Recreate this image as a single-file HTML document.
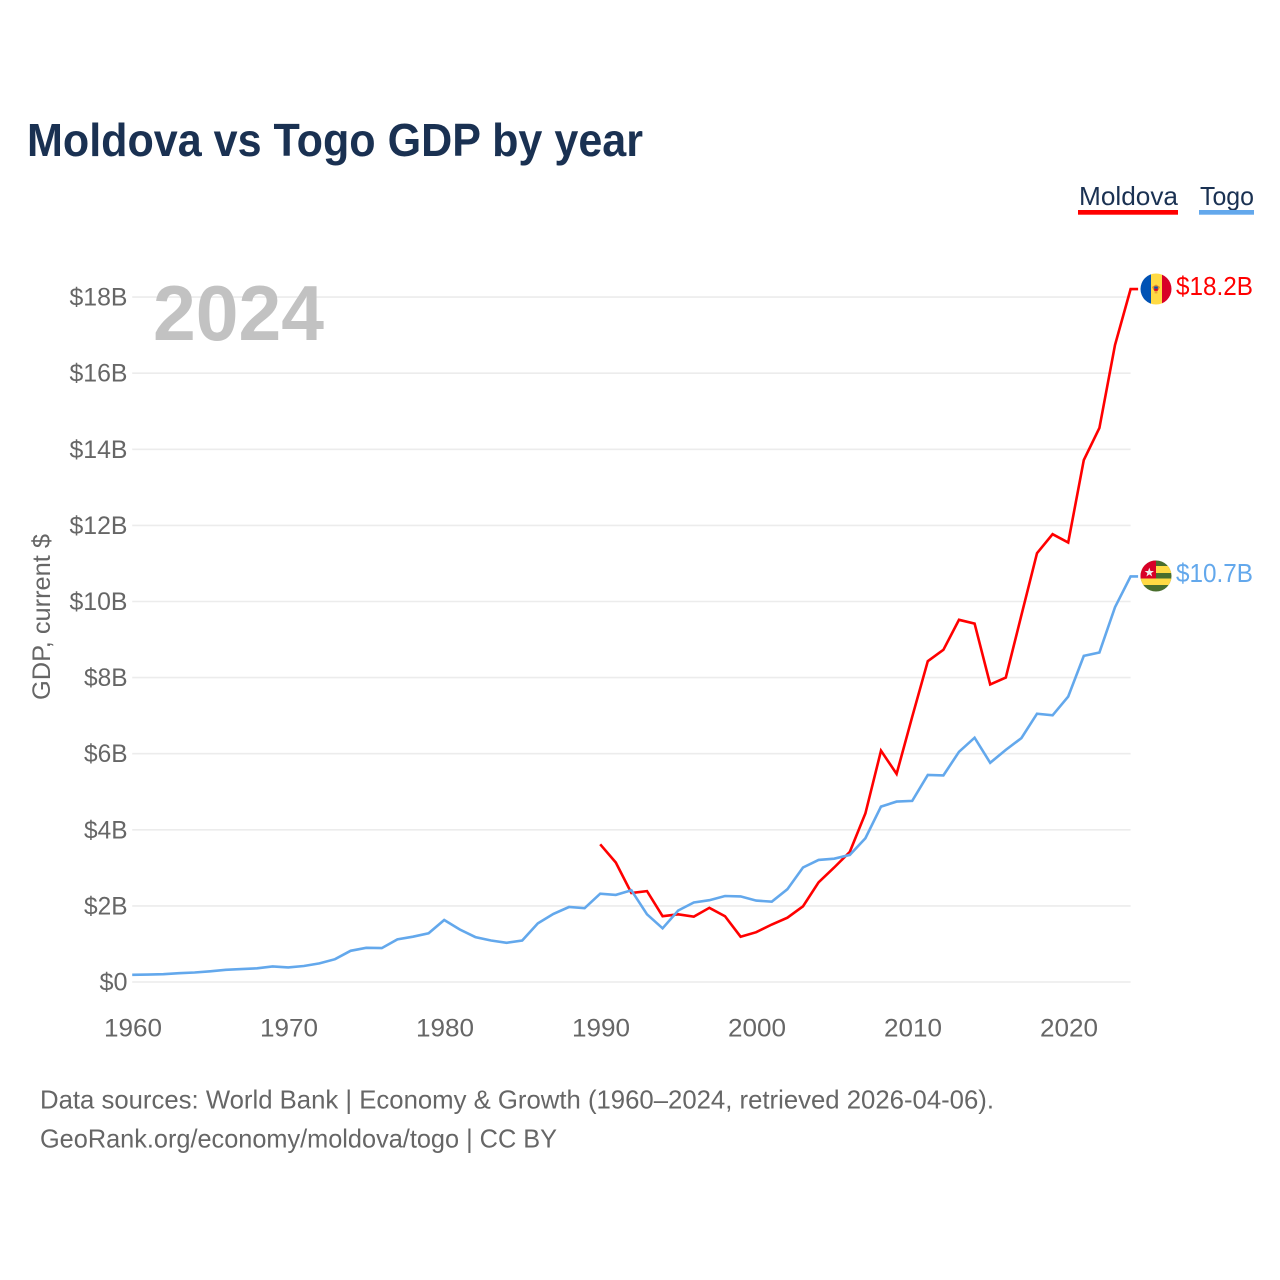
<!DOCTYPE html>
<html lang="en">
<head>
<meta charset="utf-8">
<title>Moldova vs Togo GDP by year</title>
<style>
html,body{margin:0;padding:0;background:#fff;width:1280px;height:1280px;overflow:hidden}
svg{display:block;font-family:"Liberation Sans",sans-serif}
</style>
</head>
<body>
<svg id="chart" width="1280" height="1280" viewBox="0 0 1280 1280" xmlns="http://www.w3.org/2000/svg">
  <text x="27" y="156" font-size="46" font-weight="700" fill="#1a3152" textLength="616" lengthAdjust="spacingAndGlyphs">Moldova vs Togo GDP by year</text>

  <g id="grid"></g>
  <g id="y-ticks"></g>
  <g id="x-ticks"></g>

  <text x="153" y="340" font-size="78" font-weight="700" fill="#c2c2c2" textLength="171" lengthAdjust="spacingAndGlyphs">2024</text>
  <text transform="translate(50,700) rotate(-90)" x="0" y="0" font-size="25" fill="#666" textLength="166" lengthAdjust="spacingAndGlyphs">GDP, current $</text>

  <g id="series"></g>

  <g>
    <text x="1079" y="205" font-size="26" fill="#1a3152" textLength="99" lengthAdjust="spacingAndGlyphs">Moldova</text>
    <rect x="1078" y="210" width="100" height="4.7" fill="#ff0000"/>
  </g>
  <g>
    <text x="1200" y="205" font-size="26" fill="#1a3152" textLength="54" lengthAdjust="spacingAndGlyphs">Togo</text>
    <rect x="1199" y="210" width="55" height="4.7" fill="#63a8ec"/>
  </g>

  <defs>
    <clipPath id="clip-md"><circle cx="1156" cy="289" r="15.5"/></clipPath>
    <clipPath id="clip-tg"><circle cx="1156" cy="576" r="15.5"/></clipPath>
  </defs>
  <g clip-path="url(#clip-md)">
    <rect x="1140" y="273" width="11" height="32" fill="#0052b4"/>
    <rect x="1151" y="273" width="11" height="32" fill="#ffda44"/>
    <rect x="1162" y="273" width="10" height="32" fill="#d80027"/>
    <polygon points="1152,287 1156,284.5 1160,287 1158.5,290 1153.5,290" fill="#e08a2c"/>
    <rect x="1154.2" y="286.5" width="3.6" height="2.2" fill="#0052b4"/>
    <rect x="1154.2" y="288.7" width="3.6" height="2.2" fill="#d80027"/>
    <rect x="1154.6" y="291" width="2.8" height="2.4" fill="#e8a33a"/>
  </g>
  <g clip-path="url(#clip-tg)">
    <rect x="1140" y="560" width="32" height="32" fill="#496e2d"/>
    <rect x="1140" y="566" width="32" height="7" fill="#ffda44"/>
    <rect x="1140" y="578.5" width="32" height="6.5" fill="#ffda44"/>
    <rect x="1140" y="560" width="16" height="18.5" fill="#d80027"/>
    <polygon points="1149.3,567.6 1150.5,571 1154,571 1151.2,573.1 1152.2,576.5 1149.3,574.4 1146.4,576.5 1147.4,573.1 1144.6,571 1148.1,571" fill="#f0f0f0"/>
  </g>

  <text x="1176" y="295" font-size="26" fill="#ff0000" textLength="77" lengthAdjust="spacingAndGlyphs">$18.2B</text>
  <text x="1176" y="582" font-size="26" fill="#63a8ec" textLength="77" lengthAdjust="spacingAndGlyphs">$10.7B</text>

  <text x="40" y="1108.5" font-size="26" fill="#666" textLength="954" lengthAdjust="spacingAndGlyphs">Data sources: World Bank | Economy &amp; Growth (1960–2024, retrieved 2026-04-06).</text>
  <text x="40" y="1147.5" font-size="26" fill="#666" textLength="517" lengthAdjust="spacingAndGlyphs">GeoRank.org/economy/moldova/togo | CC BY</text>
</svg>
<script>
const xTickYears = [1960, 1970, 1980, 1990, 2000, 2010, 2020];
const yTickValues = [0, 2, 4, 6, 8, 10, 12, 14, 16, 18];
const togoStartYear = 1960;
const togoGdp = [0.19, 0.195, 0.205, 0.23, 0.25, 0.28, 0.32, 0.34, 0.36, 0.41, 0.385, 0.42, 0.49, 0.6, 0.82, 0.9, 0.89, 1.12, 1.19, 1.28, 1.63, 1.38, 1.18, 1.09, 1.03, 1.09, 1.54, 1.79, 1.97, 1.94, 2.32, 2.29, 2.41, 1.78, 1.41, 1.88, 2.09, 2.15, 2.26, 2.25, 2.14, 2.11, 2.44, 3.01, 3.21, 3.24, 3.34, 3.78, 4.61, 4.74, 4.76, 5.44, 5.43, 6.05, 6.42, 5.76, 6.10, 6.41, 7.05, 7.01, 7.50, 8.57, 8.66, 9.85, 10.66];
const moldovaStartYear = 1990;
const moldovaGdp = [3.62, 3.14, 2.34, 2.39, 1.73, 1.78, 1.72, 1.95, 1.73, 1.19, 1.31, 1.51, 1.69, 1.99, 2.62, 3.01, 3.42, 4.43, 6.08, 5.47, 6.97, 8.43, 8.73, 9.52, 9.42, 7.82, 8.0, 9.64, 11.27, 11.77, 11.55, 13.72, 14.56, 16.74, 18.21];

const NS = 'http://www.w3.org/2000/svg';
const xScale = year => 132.2 + (year - 1960) * 15.6;
const yScale = value => 982 - value * 38.05;
const plotRight = xScale(2024);

const grid = document.getElementById('grid');
const yTicks = document.getElementById('y-ticks');
const xTicks = document.getElementById('x-ticks');
const seriesGroup = document.getElementById('series');

yTickValues.forEach(value => {
  const line = document.createElementNS(NS, 'line');
  
  
  line.setAttribute('x1', xScale(1960));
  line.setAttribute('x2', plotRight);
  line.setAttribute('y1', yScale(value));
  line.setAttribute('y2', yScale(value));
  line.setAttribute('stroke', '#ececec');
  line.setAttribute('stroke-width', '1.6');
  grid.appendChild(line);

  const label = document.createElementNS(NS, 'text');
  
  
  const str = '$' + value + (value === 0 ? '' : 'B');
  label.textContent = str;
  const w = value === 0 ? 28 : str.length * 14.5;
  label.setAttribute('x', 127.5 - w);
  label.setAttribute('y', yScale(value) + 8.5);
  label.setAttribute('font-size', '25');
  label.setAttribute('fill', '#666');
  label.setAttribute('textLength', w);
  label.setAttribute('lengthAdjust', 'spacingAndGlyphs');
  yTicks.appendChild(label);
});

xTickYears.forEach(year => {
  const label = document.createElementNS(NS, 'text');
  
  
  label.textContent = String(year);
  label.setAttribute('x', xScale(year) - 28.2);
  label.setAttribute('y', 1036.5);
  label.setAttribute('font-size', '25');
  label.setAttribute('fill', '#666');
  label.setAttribute('textLength', 58);
  label.setAttribute('lengthAdjust', 'spacingAndGlyphs');
  xTicks.appendChild(label);
});

function drawSeries(startYear, values, color, seriesName) {
  const pts = values.map((v, i) => xScale(startYear + i).toFixed(1) + ',' + yScale(v).toFixed(1));
  pts.push((plotRight + 7.5).toFixed(1) + ',' + yScale(values[values.length - 1]).toFixed(1));
  const line = document.createElementNS(NS, 'polyline');
  
  
  line.setAttribute('points', pts.join(' '));
  line.setAttribute('fill', 'none');
  line.setAttribute('stroke', color);
  line.setAttribute('stroke-width', '2.6');
  line.setAttribute('stroke-linejoin', 'miter');
  seriesGroup.appendChild(line);
}
drawSeries(moldovaStartYear, moldovaGdp, '#ff0000', 'line-moldova');
drawSeries(togoStartYear, togoGdp, '#63a8ec', 'line-togo');
</script>
</body>
</html>
